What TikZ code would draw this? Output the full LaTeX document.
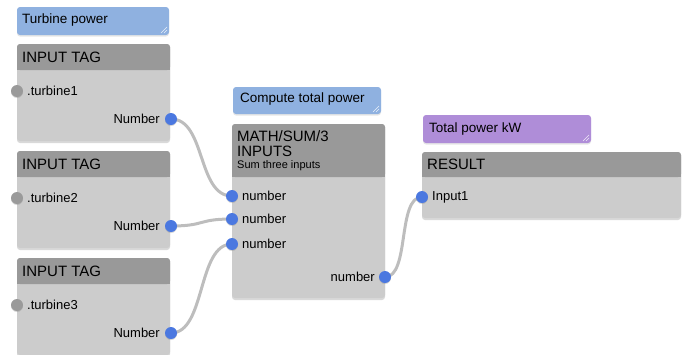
\documentclass[tikz,border=0pt]{standalone}
\usepackage{fontspec}
\setmainfont{Liberation Sans}
\usetikzlibrary{shadows}
\pgfdeclarelayer{bg}
\pgfsetlayers{bg,main}

\definecolor{noteblue}{HTML}{8FB1E0}
\definecolor{notepurple}{HTML}{AF8DD8}
\definecolor{hdrgray}{HTML}{999999}
\definecolor{bodygray}{HTML}{CCCCCC}
\definecolor{portblue}{HTML}{4B78E0}
\definecolor{portgray}{HTML}{9A9A9A}
\definecolor{wiregray}{HTML}{BDBDBD}

\begin{document}
\begin{tikzpicture}[x=1pt, y=-1pt, font=\fontsize{13}{15}\selectfont,
  box/.style={fill=bodygray, rounded corners=3, drop shadow={opacity=.3, shadow xshift=0pt, shadow yshift=-2pt}},
  hdr/.style={fill=hdrgray},
  note/.style={fill=#1, rounded corners=3, drop shadow={opacity=.2, shadow xshift=0pt, shadow yshift=-1.5pt}},
  hatch/.style={white, opacity=.8, line width=.6pt},
  port/.style={circle, inner sep=0pt, minimum size=12pt, fill=#1, drop shadow={opacity=.3, shadow xshift=0pt, shadow yshift=-1pt}},
  wire/.style={draw=wiregray, line width=3pt},
  lbl/.style={inner sep=0pt, anchor=west},
  title/.style={inner sep=0pt, anchor=west, font=\fontsize{15}{17}\selectfont}]
  \useasboundingbox (0,0) rectangle (691,354);

  % comments
  \fill[note=noteblue] (17,7) rectangle (169,35);
  \draw[hatch] (167,27) -- (161,33) (167,30) -- (164,33);
  \node[lbl, font=\fontsize{13.5}{15}\selectfont] (note1) at (22,20) {Turbine power};
  \fill[note=noteblue] (233,87) rectangle (381,114);
  \draw[hatch] (379,106) -- (373,112) (379,109) -- (376,112);
  \node[lbl, font=\fontsize{13.5}{15}\selectfont] (note2) at (240,99) {Compute total power};
  \fill[note=notepurple] (423,115) rectangle (591,143);
  \draw[hatch] (589,135) -- (583,141) (589,138) -- (586,141);
  \node[lbl, font=\fontsize{13.5}{15}\selectfont] (note3) at (429,129) {Total power kW};

  % input tags
  \foreach \i/\y in {1/44, 2/151, 3/258} {
    \fill[box] (17,\y) rectangle (170,\y+97);
    \fill[hdr, rounded corners=3] (17,\y) rectangle (170,\y+26);
    \fill[hdr] (17,\y+16) rectangle (170,\y+26);
    \node[title] (tag\i) at (22,\y+13) {INPUT TAG};
    \node[port=portgray] (tag\i-in) at (17,\y+47) {};
    \node[lbl] (tag\i-name) at (27,\y+47) {.turbine\i};
    \node[port=portblue] (tag\i-out) at (171,\y+75) {};
    \node[lbl, anchor=east] (tag\i-num) at (160,\y+75) {Number};
  }

  % sum block
  \fill[box] (232,124) rectangle (385,298);
  \fill[hdr, rounded corners=3] (232,124) rectangle (385,177);
  \fill[hdr] (232,167) rectangle (385,177);
  \node[title] (sum) at (237,136) {MATH/SUM/3};
  \node[title] (sum2) at (237,151) {INPUTS};
  \node[lbl, font=\fontsize{11}{13}\selectfont] (sum3) at (237,166) {Sum three inputs};
  \foreach \i/\y in {1/196, 2/219, 3/244} {
    \node[port=portblue] (sum-in\i) at (232,\y) {};
    \node[lbl] (sum-lbl\i) at (242,\y) {number};
  }
  \node[port=portblue] (sum-out) at (385,277) {};
  \node[lbl, anchor=east] (sum-num) at (375,277) {number};

  % result block
  \fill[box] (422,152) rectangle (681,218);
  \fill[hdr, rounded corners=3] (422,152) rectangle (681,177);
  \fill[hdr] (422,167) rectangle (681,177);
  \node[title] (res) at (427,164) {RESULT};
  \node[port=portblue] (res-in) at (422,197) {};
  \node[lbl] (res-lbl) at (432,197) {Input1};

  % wires
  \begin{pgfonlayer}{bg}
    \foreach \i in {1,2,3}
      \draw[wire] (tag\i-out.center) .. controls +(35,0) and +(-35,0) .. (sum-in\i.center);
    \draw[wire] (sum-out.center) .. controls +(25,0) and +(-25,0) .. (res-in.center);
  \end{pgfonlayer}
\end{tikzpicture}
\end{document}
